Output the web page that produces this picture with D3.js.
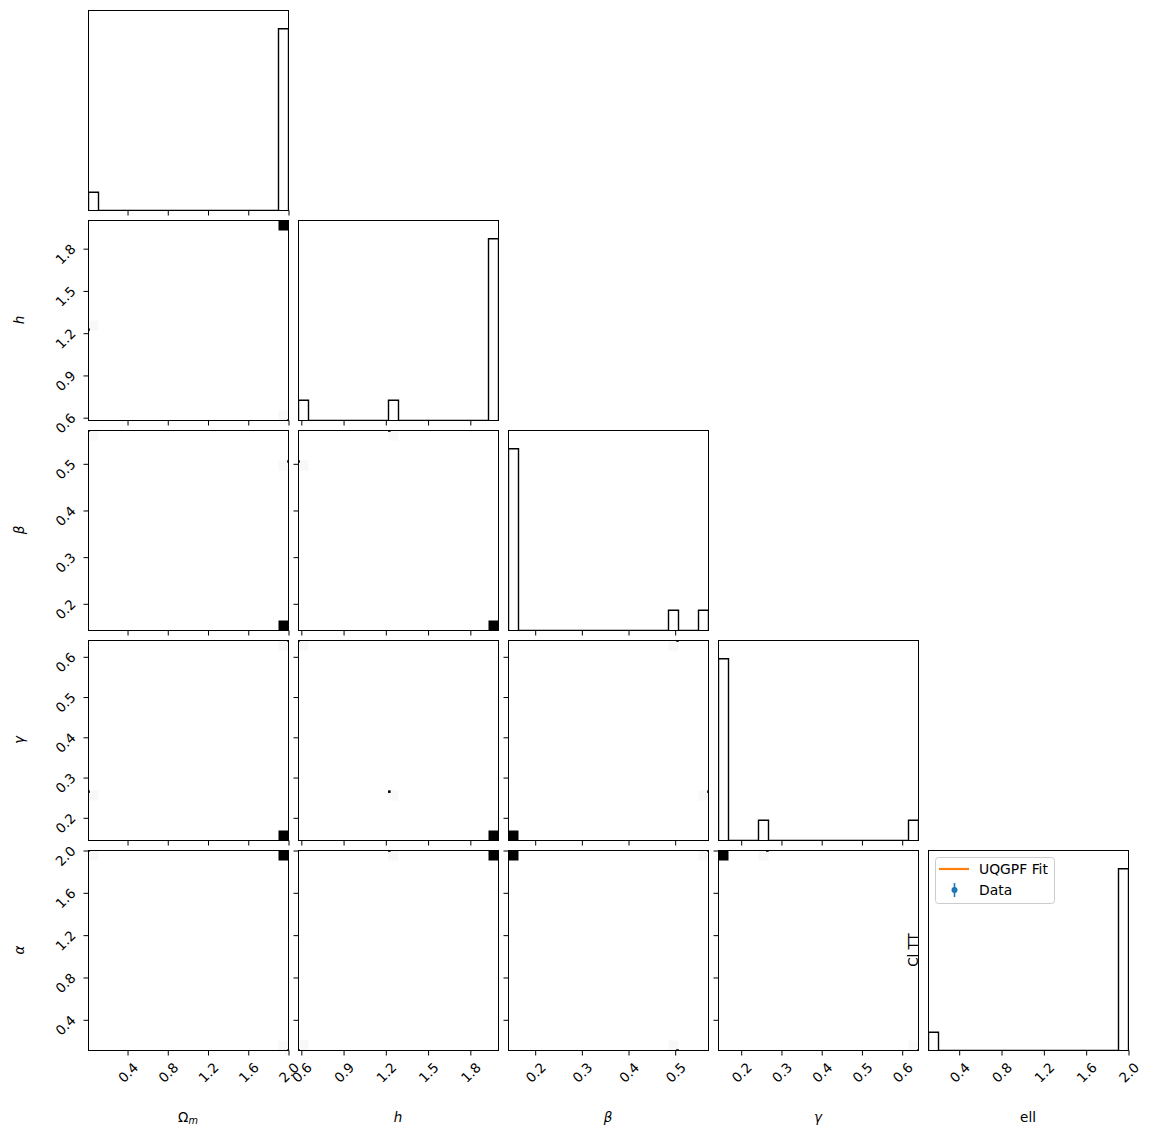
<!DOCTYPE html>
<html>
<head>
<meta charset="utf-8">
<script src="https://cdn.jsdelivr.net/npm/d3@7"></script>
<style>
  body { margin: 0; background: #fff; }
  svg { display: block; font-family: "DejaVu Sans", sans-serif; }
</style>
</head>
<body>
<svg width="1150" height="1138"></svg>
<script>
// samples (11 chain points)
const omegaM = [0.012, 2.0, 2.0, 2.0, 2.0, 2.0, 2.0, 2.0, 2.0, 2.0, 2.0];
const hubble = [1.225, 0.58, 2.0, 2.0, 2.0, 2.0, 2.0, 2.0, 2.0, 2.0, 2.0];
const betaS  = [0.5714, 0.505, 0.1428, 0.1428, 0.1428, 0.1428, 0.1428, 0.1428, 0.1428, 0.1428, 0.1428];
const gammaS = [0.265, 0.6405, 0.1436, 0.1436, 0.1436, 0.1436, 0.1436, 0.1436, 0.1436, 0.1436, 0.1436];
const alphaS = [2.0, 0.11, 2.0, 2.0, 2.0, 2.0, 2.0, 2.0, 2.0, 2.0, 2.0];

const omegaTicks = [0.4, 0.8, 1.2, 1.6, 2.0];
const hTicks     = [0.6, 0.9, 1.2, 1.5, 1.8];
const betaTicks  = [0.2, 0.3, 0.4, 0.5];
const gammaTicks = [0.2, 0.3, 0.4, 0.5, 0.6];
const alphaTicks = [0.4, 0.8, 1.2, 1.6, 2.0];

const legendNames  = ["UQGPF Fit", "Data"];
const legendColors = ["#ff7f0e", "#1f77b4"];

const samples = [omegaM, hubble, betaS, gammaS, alphaS];
const ticks = [omegaTicks, hTicks, betaTicks, gammaTicks, alphaTicks];
const NB = 20;
const size = 200, gap = 10, padL = 88, padT = 10;
const n = samples.length;

const svg = d3.select("svg");

const xs = samples.map(s => d3.scaleLinear().domain(d3.extent(s)).range([0, size]));
const ys = samples.map(s => d3.scaleLinear().domain(d3.extent(s)).range([size, 0]));

const binIdx = (s, v) => {
  const [lo, hi] = d3.extent(s);
  return Math.min(NB - 1, Math.floor((v - lo) / (hi - lo) * NB));
};

// math-style labels
function mathLabel(sel, i, plainEll) {
  if (i === 0) {
    sel.append("tspan").text("Ω");
    sel.append("tspan").attr("font-style", "italic").attr("font-size", "0.72em").attr("dy", "0.22em").text("m");
  } else if (i === 1) sel.append("tspan").attr("font-style", "italic").text("h");
  else if (i === 2) sel.append("tspan").attr("font-style", "italic").text("β");
  else if (i === 3) sel.append("tspan").attr("font-style", "italic").text("γ");
  else if (plainEll) sel.append("tspan").text("ell");
  else sel.append("tspan").attr("font-style", "italic").text("α");
}

const fsTick = 13.5, fsLab = 13.5;

for (let r = 0; r < n; r++) {
  for (let c = 0; c <= r; c++) {
    const g = svg.append("g").attr("transform", `translate(${padL + c * (size + gap)},${padT + r * (size + gap)})`);
    const clipId = `clip-${r}-${c}`;
    g.append("clipPath").attr("id", clipId).append("rect").attr("width", size + 1).attr("height", size + 1);
    const body = g.append("g").attr("clip-path", `url(#${clipId})`);

    if (r === c) {
      // 1D step histogram
      const s = samples[c];
      const ext = d3.extent(s);
      const th = d3.range(1, NB).map(k => ext[0] + k * (ext[1] - ext[0]) / NB);
      const bins = d3.bin().domain(ext).thresholds(th)(s);
      const ymax = d3.max(bins, b => b.length);
      const yh = d3.scaleLinear().domain([0, 1.1 * ymax]).range([size, 0]);
      const pts = [[ext[0], 0]];
      bins.forEach(b => { pts.push([b.x0, b.length]); pts.push([b.x1, b.length]); });
      pts.push([ext[1], 0]);
      body.append("path")
        .attr("d", d3.line().x(d => xs[c](d[0]) + 0.5).y(d => yh(d[1]) + 0.5)(pts))
        .attr("fill", "none").attr("stroke", "#000").attr("stroke-width", 1.4);
    } else {
      // 2D histogram
      const sx = samples[c], sy = samples[r];
      const counts = d3.rollup(d3.range(sx.length), v => v.length, i => binIdx(sx, sx[i]) + "," + binIdx(sy, sy[i]));
      const cmax = d3.max(counts.values());
      const [xlo, xhi] = d3.extent(sx), [ylo, yhi] = d3.extent(sy);
      const dx = (xhi - xlo) / NB, dy = (yhi - ylo) / NB;
      for (const [key, cnt] of counts) {
        const [bi, bj] = key.split(",").map(Number);
        const x0 = xs[c](xlo + bi * dx), x1 = xs[c](xlo + (bi + 1) * dx);
        const y0 = ys[r](ylo + (bj + 1) * dy), y1 = ys[r](ylo + bj * dy);
        body.append("rect")
          .attr("x", x0 + 0.5).attr("y", y0 + 0.5).attr("width", x1 - x0).attr("height", y1 - y0)
          .attr("fill", cnt === cmax ? "#000" : "#f8f8f8");
      }
      // points outside the densest cell
      d3.range(sx.length).forEach(i => {
        if (counts.get(binIdx(sx, sx[i]) + "," + binIdx(sy, sy[i])) === cmax) return;
        body.append("rect")
          .attr("x", xs[c](sx[i]) - 0.8).attr("y", ys[r](sy[i]) - 0.8)
          .attr("width", 2.6).attr("height", 2.6).attr("fill", "#000");
      });
    }

    // frame
    g.append("rect").attr("x", 0.5).attr("y", 0.5).attr("width", size).attr("height", size)
      .attr("fill", "none").attr("stroke", "#000").attr("stroke-width", 1);

    // x axis
    const ax = g.append("g").attr("transform", `translate(0.5,${size + 0.5})`)
      .call(d3.axisBottom(xs[c]).tickValues(ticks[c]).tickSize(5).tickSizeOuter(0)
        .tickFormat(r === n - 1 ? d3.format(".1f") : () => ""));
    ax.select(".domain").remove();
    ax.attr("font-family", null).attr("font-size", null);
    ax.selectAll("text")
      .attr("font-size", fsTick).attr("fill", "#000")
      .attr("y", null).attr("dy", "0.36em").attr("text-anchor", "middle")
      .attr("transform", function () {
        const e = (this.getComputedTextLength() + 0.73 * fsTick) * 0.7071;
        return `translate(0,${11 + e / 2}) rotate(-45)`;
      });

    // y axis
    if (c < r) {
      const ay = g.append("g").attr("transform", `translate(0.5,0.5)`)
        .call(d3.axisLeft(ys[r]).tickValues(ticks[r]).tickSize(5).tickSizeOuter(0)
          .tickFormat(c === 0 ? d3.format(".1f") : () => ""));
      ay.select(".domain").remove();
      ay.attr("font-family", null).attr("font-size", null);
      ay.selectAll("text")
        .attr("font-size", fsTick).attr("fill", "#000")
        .attr("x", null).attr("dy", "0.36em").attr("text-anchor", "middle")
        .attr("transform", function () {
          const e = (this.getComputedTextLength() + 0.73 * fsTick) * 0.7071;
          return `translate(${-12 - e / 2},5) rotate(-45)`;
        });
    }
  }
}

// axis labels
for (let i = 0; i < n; i++) {
  const t = svg.append("text")
    .attr("x", padL + i * (size + gap) + size / 2).attr("y", 1122)
    .attr("text-anchor", "middle").attr("font-size", fsLab);
  mathLabel(t, i, true);
}
for (let j = 1; j < n; j++) {
  const cy = padT + j * (size + gap) + size / 2;
  const t = svg.append("text")
    .attr("transform", `translate(24,${cy}) rotate(-90)`)
    .attr("text-anchor", "middle").attr("font-size", fsLab);
  mathLabel(t, j, false);
}

// ylabel of the last panel
svg.append("text")
  .attr("transform", `translate(918,950) rotate(-90)`)
  .attr("text-anchor", "middle").attr("font-size", fsLab).text("Cl TT");

// legend
const lg = svg.append("g").attr("transform", "translate(935,857)");
lg.append("rect").attr("x", 0.5).attr("y", 0.5).attr("width", 119).attr("height", 46).attr("rx", 3)
  .attr("fill", "#fff").attr("fill-opacity", 0.8).attr("stroke", "#cccccc").attr("stroke-width", 1);
lg.append("line").attr("x1", 4).attr("x2", 34).attr("y1", 12).attr("y2", 12)
  .attr("stroke", legendColors[0]).attr("stroke-width", 2.2);
lg.append("line").attr("x1", 19.5).attr("x2", 19.5).attr("y1", 26).attr("y2", 40)
  .attr("stroke", legendColors[1]).attr("stroke-width", 1.6);
lg.append("circle").attr("cx", 19.5).attr("cy", 33).attr("r", 3).attr("fill", legendColors[1]);
lg.selectAll("text.lab").data(legendNames).join("text").attr("class", "lab")
  .attr("x", 44).attr("y", (d, i) => 17 + i * 21)
  .attr("font-size", 13.9).attr("fill", "#000").text(d => d);
</script>
</body>
</html>
